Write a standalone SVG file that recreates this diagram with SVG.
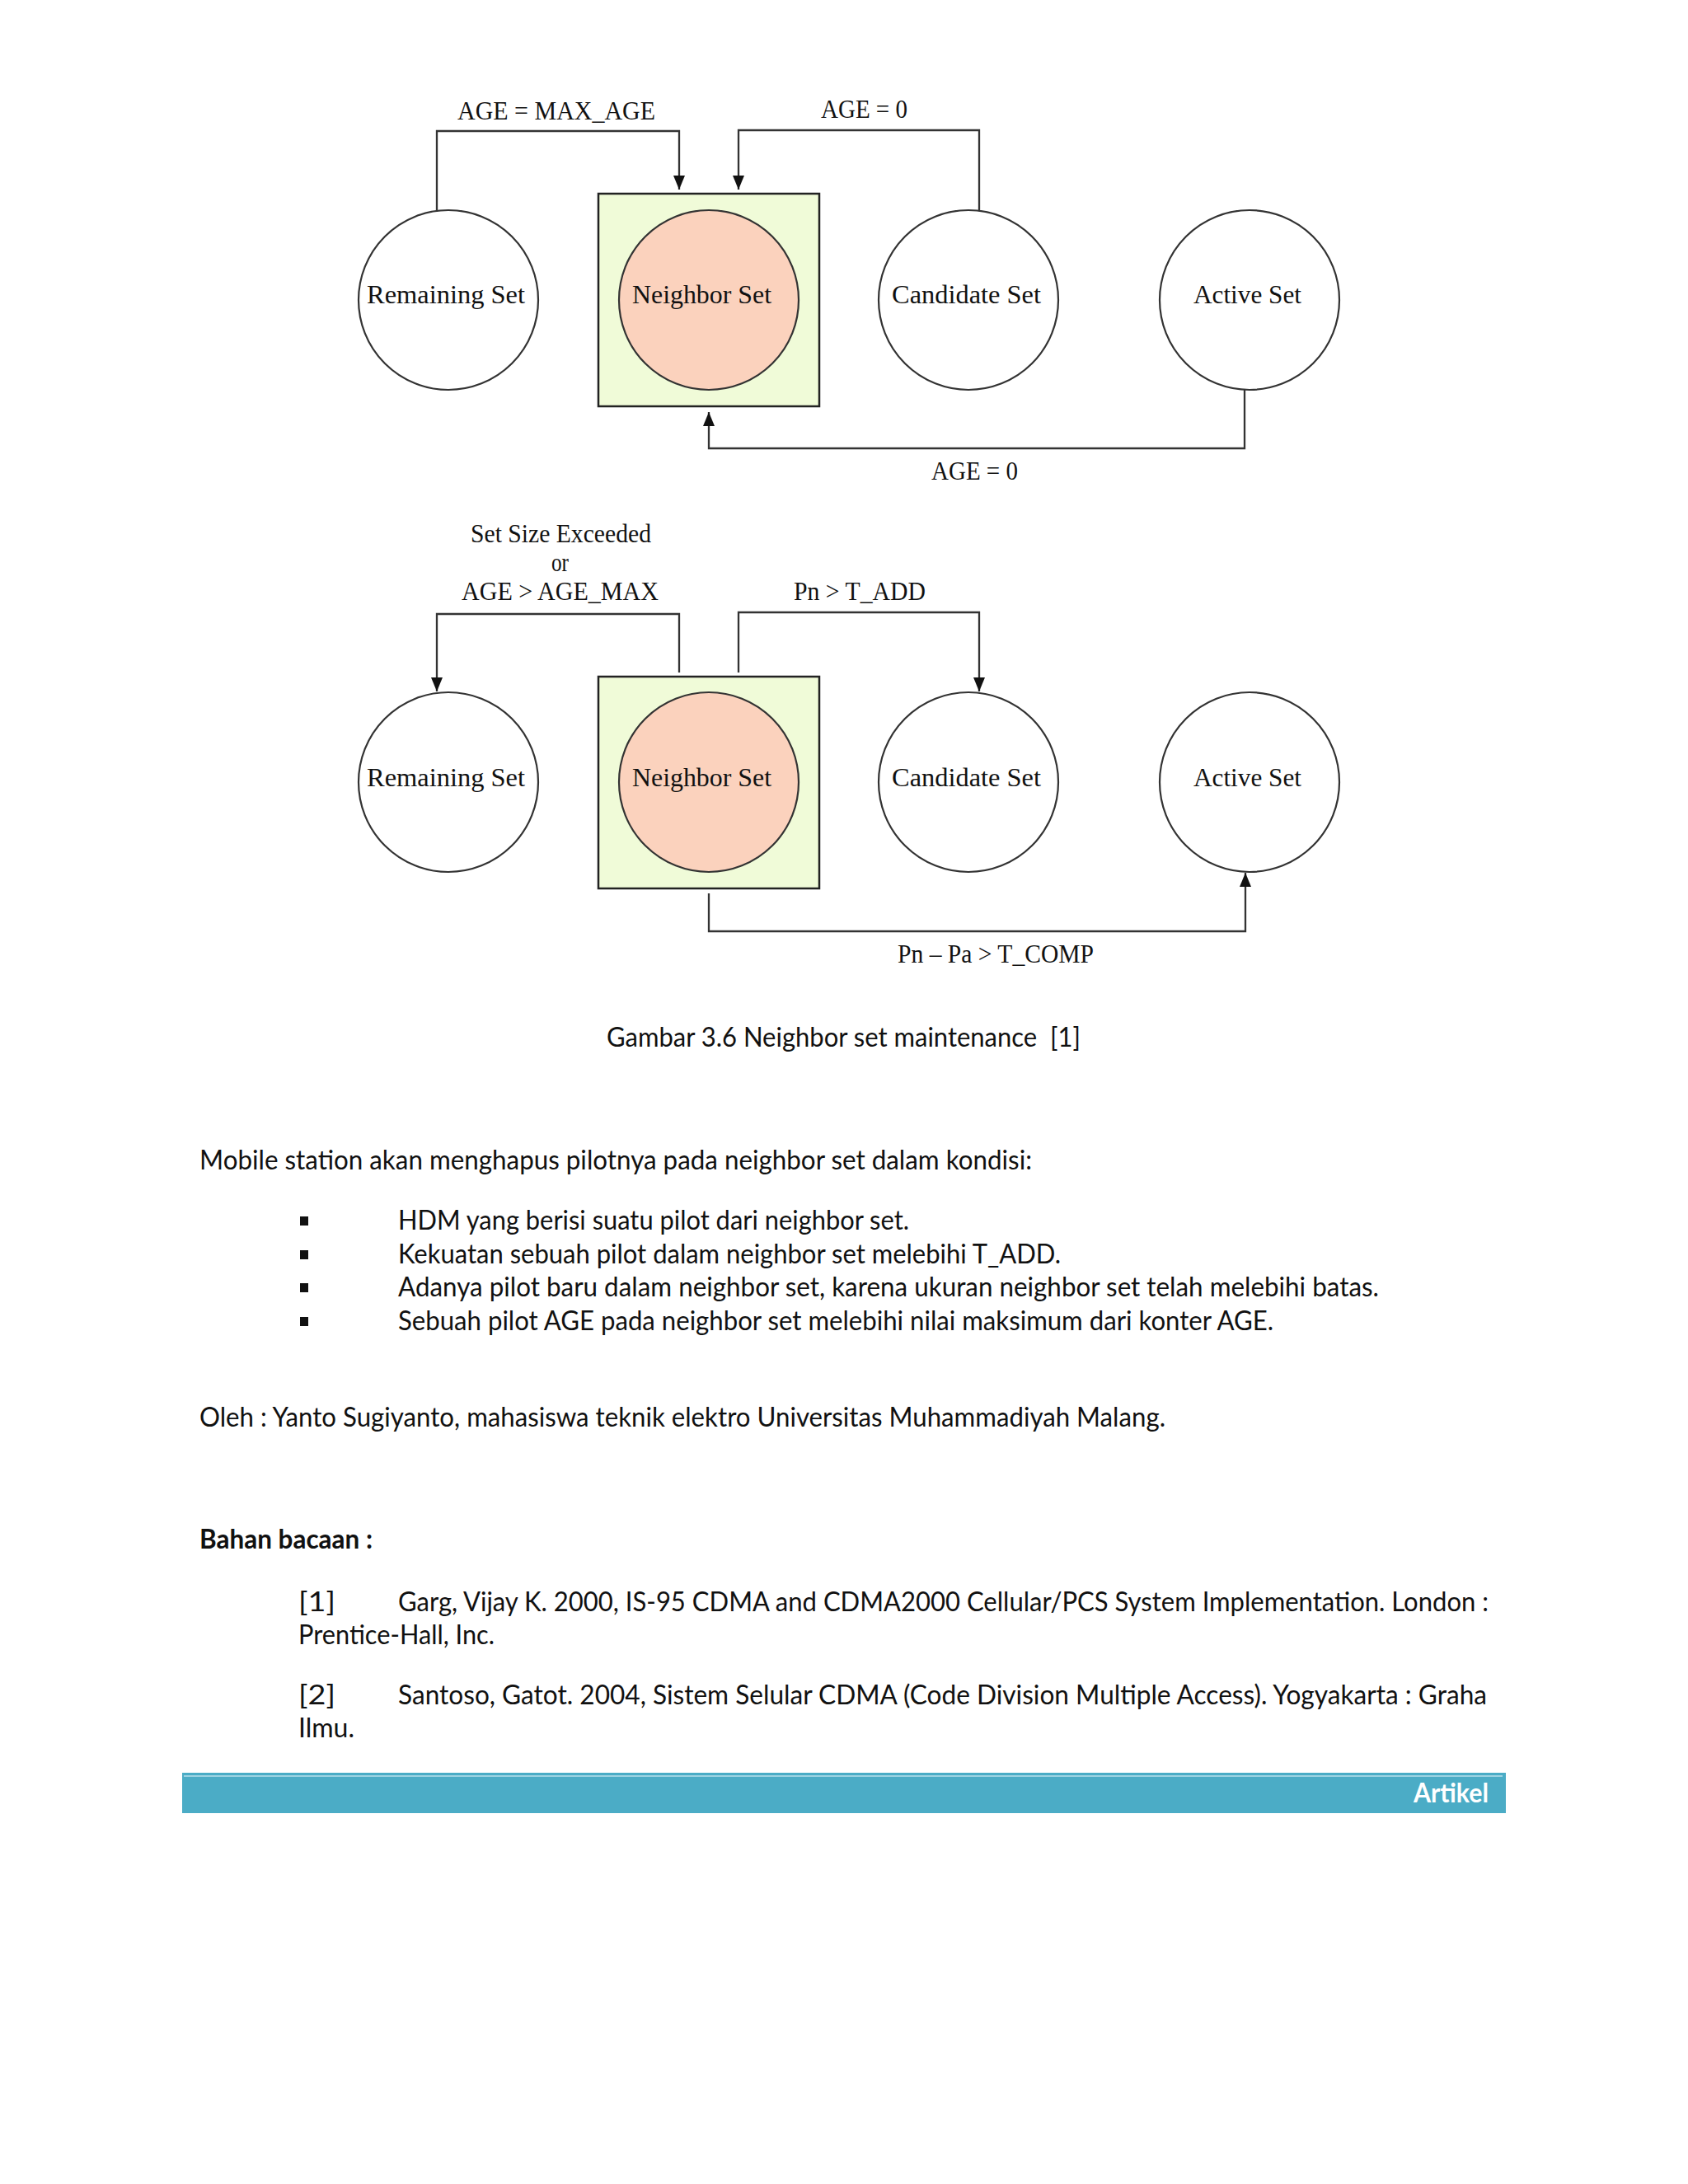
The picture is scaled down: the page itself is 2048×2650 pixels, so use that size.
<svg xmlns="http://www.w3.org/2000/svg" width="2048" height="2650" viewBox="0 0 2048 2650">
<defs>
<marker id="arr" markerUnits="userSpaceOnUse" markerWidth="18" markerHeight="14" viewBox="0 0 18 14" refX="17" refY="7" orient="auto">
<path d="M0,0 L17,7 L0,14 Z" fill="#111"/>
</marker>
<style>
.dl{font-family:"Liberation Serif","Times New Roman",serif;font-size:31px;fill:#111;text-anchor:start}
.node{stroke:#333;stroke-width:2.2}
.plain{fill:#ffffff}
.nb{fill:#fbd2bd}
.box{fill:#f0fbd8;stroke:#222;stroke-width:2.5}
.conn{fill:none;stroke:#333;stroke-width:2.3}
.bt{font-family:Lato,"Open Sans","Liberation Sans",sans-serif;font-size:33px;fill:#111;white-space:pre}
.bold{font-weight:bold}
</style>
</defs>
<rect x="0" y="0" width="2048" height="2650" fill="#fff"/>

<!-- Top diagram -->
<g id="top-neighbor-box"><rect class="box" x="726" y="235" width="268" height="258"/></g>
<g id="top-remaining"><circle class="node plain" cx="544" cy="364" r="109"/><text class="dl" x="445" y="368" textLength="192" lengthAdjust="spacingAndGlyphs">Remaining Set</text></g>
<g id="top-neighbor"><circle class="node nb" cx="860" cy="364" r="109"/><text class="dl" x="767" y="368" textLength="169" lengthAdjust="spacingAndGlyphs">Neighbor Set</text></g>
<g id="top-candidate"><circle class="node plain" cx="1175" cy="364" r="109"/><text class="dl" x="1082" y="368" textLength="181" lengthAdjust="spacingAndGlyphs">Candidate Set</text></g>
<g id="top-active"><circle class="node plain" cx="1516" cy="364" r="109"/><text class="dl" x="1448" y="368" textLength="131" lengthAdjust="spacingAndGlyphs">Active Set</text></g>

<g id="top-connectors">
<path class="conn" d="M530,256 V159 H824 V230" marker-end="url(#arr)"/>
<path class="conn" d="M1188,256 V158 H896 V230" marker-end="url(#arr)"/>
<path class="conn" d="M1510,473 V544 H860 V500" marker-end="url(#arr)"/>
<text class="dl" x="555" y="145" textLength="240" lengthAdjust="spacingAndGlyphs">AGE = MAX_AGE</text>
<text class="dl" x="996" y="143" textLength="105" lengthAdjust="spacingAndGlyphs">AGE = 0</text>
<text class="dl" x="1130" y="582" textLength="105" lengthAdjust="spacingAndGlyphs">AGE = 0</text>
</g>

<!-- Bottom diagram -->
<g id="bot-neighbor-box"><rect class="box" x="726" y="821" width="268" height="257"/></g>
<g id="bot-remaining"><circle class="node plain" cx="544" cy="949" r="109"/><text class="dl" x="445" y="954" textLength="192" lengthAdjust="spacingAndGlyphs">Remaining Set</text></g>
<g id="bot-neighbor"><circle class="node nb" cx="860" cy="949" r="109"/><text class="dl" x="767" y="954" textLength="169" lengthAdjust="spacingAndGlyphs">Neighbor Set</text></g>
<g id="bot-candidate"><circle class="node plain" cx="1175" cy="949" r="109"/><text class="dl" x="1082" y="954" textLength="181" lengthAdjust="spacingAndGlyphs">Candidate Set</text></g>
<g id="bot-active"><circle class="node plain" cx="1516" cy="949" r="109"/><text class="dl" x="1448" y="954" textLength="131" lengthAdjust="spacingAndGlyphs">Active Set</text></g>

<g id="bot-connectors">
<path class="conn" d="M824,816 V745 H530 V839" marker-end="url(#arr)"/>
<path class="conn" d="M896,816 V743 H1188 V839" marker-end="url(#arr)"/>
<path class="conn" d="M860,1084 V1130 H1511 V1059" marker-end="url(#arr)"/>
<text class="dl" x="571" y="658" textLength="219" lengthAdjust="spacingAndGlyphs">Set Size Exceeded</text>
<text class="dl" x="669" y="693" textLength="21" lengthAdjust="spacingAndGlyphs">or</text>
<text class="dl" x="560" y="728" textLength="239" lengthAdjust="spacingAndGlyphs">AGE &gt; AGE_MAX</text>
<text class="dl" x="963" y="728" textLength="160" lengthAdjust="spacingAndGlyphs">Pn &gt; T_ADD</text>
<text class="dl" x="1089" y="1168" textLength="238" lengthAdjust="spacingAndGlyphs">Pn – Pa &gt; T_COMP</text>
</g>

<!-- Caption and body text -->
<g id="caption"><text class="bt" x="736" y="1270" textLength="575" lengthAdjust="spacingAndGlyphs" xml:space="preserve">Gambar 3.6 Neighbor set maintenance  [1]</text></g>

<g id="body">
<text class="bt" x="242" y="1419" textLength="1010" lengthAdjust="spacingAndGlyphs">Mobile station akan menghapus pilotnya pada neighbor set dalam kondisi:</text>
<rect x="364" y="1476" width="10" height="11" fill="#111"/>
<rect x="364" y="1517" width="10" height="11" fill="#111"/>
<rect x="364" y="1557" width="10" height="11" fill="#111"/>
<rect x="364" y="1598" width="10" height="11" fill="#111"/>
<text class="bt" x="483" y="1492" textLength="620" lengthAdjust="spacingAndGlyphs">HDM yang berisi suatu pilot dari neighbor set.</text>
<text class="bt" x="483" y="1533" textLength="804" lengthAdjust="spacingAndGlyphs">Kekuatan sebuah pilot dalam neighbor set melebihi T_ADD.</text>
<text class="bt" x="483" y="1573" textLength="1190" lengthAdjust="spacingAndGlyphs">Adanya pilot baru dalam neighbor set, karena ukuran neighbor set telah melebihi batas.</text>
<text class="bt" x="483" y="1614" textLength="1062" lengthAdjust="spacingAndGlyphs">Sebuah pilot AGE pada neighbor set melebihi nilai maksimum dari konter AGE.</text>
<text class="bt" x="242" y="1731" textLength="1172" lengthAdjust="spacingAndGlyphs">Oleh : Yanto Sugiyanto, mahasiswa teknik elektro Universitas Muhammadiyah Malang.</text>
<text class="bt bold" x="242" y="1879" textLength="210" lengthAdjust="spacingAndGlyphs">Bahan bacaan :</text>
<text class="bt" x="362" y="1955" textLength="45" lengthAdjust="spacingAndGlyphs">[1]</text>
<text class="bt" x="483" y="1955" textLength="1323" lengthAdjust="spacingAndGlyphs">Garg, Vijay K. 2000, IS-95 CDMA and CDMA2000 Cellular/PCS System Implementation. London :</text>
<text class="bt" x="362" y="1995" textLength="238" lengthAdjust="spacingAndGlyphs">Prentice-Hall, Inc.</text>
<text class="bt" x="362" y="2068" textLength="45" lengthAdjust="spacingAndGlyphs">[2]</text>
<text class="bt" x="483" y="2068" textLength="1321" lengthAdjust="spacingAndGlyphs">Santoso, Gatot. 2004, Sistem Selular CDMA (Code Division Multiple Access). Yogyakarta : Graha</text>
<text class="bt" x="362" y="2108" textLength="68" lengthAdjust="spacingAndGlyphs">Ilmu.</text>
</g>

<g id="footer">
<rect x="221" y="2151" width="1606" height="49" fill="#4bacc6"/>
<line x1="223" y1="2155" x2="1823" y2="2155" stroke="#b9e0ec" stroke-width="1.5"/>
<text class="bt bold" x="1715" y="2187" font-size="31" style="fill:#fff" textLength="91" lengthAdjust="spacingAndGlyphs">Artikel</text>
</g>
</svg>
